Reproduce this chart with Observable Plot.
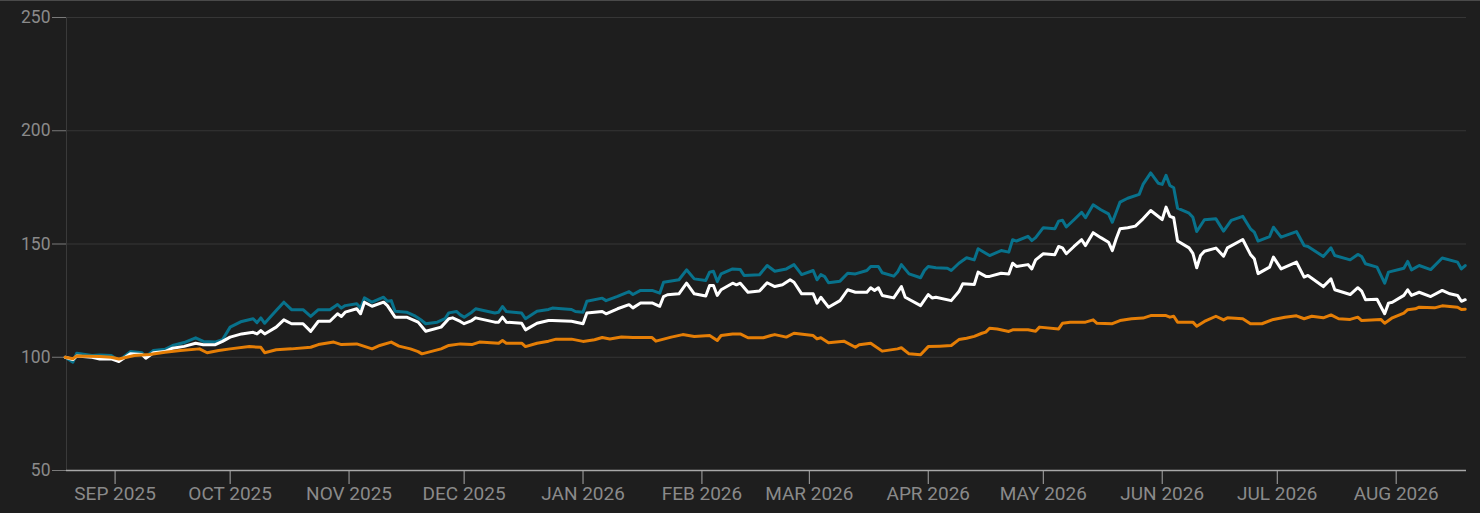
<!DOCTYPE html>
<html>
<head>
<meta charset="utf-8">
<script src="https://cdn.jsdelivr.net/npm/d3@7"></script>
<script src="https://cdn.jsdelivr.net/npm/@observablehq/plot@0.6"></script>
<style>
  html, body { margin: 0; padding: 0; background: #1e1e1e; }
  #wrap { position: relative; width: 1480px; height: 513px; overflow: hidden; }
  #topline { position: absolute; left: 0; top: 0; width: 1480px; height: 1px; background: #4a4a4a; }
</style>
</head>
<body>
<div id="wrap"><div id="chart"></div><div id="topline"></div></div>
<script>
const xTicks = ["2025-09-01","2025-10-01","2025-11-01","2025-12-01","2026-01-01","2026-02-01","2026-03-01","2026-04-01","2026-05-01","2026-06-01","2026-07-01","2026-08-01"];
const yTicks = [50, 100, 150, 200, 250];
const xDomain = ["2025-08-19T08:00", "2026-08-19T08:00"];

const tealSeries = [["2025-08-19",100],["2025-08-21",97.8],["2025-08-22",101.8],["2025-08-26",100.8],["2025-08-28",101],["2025-08-31",100.8],["2025-09-02",98.5],["2025-09-05",102.5],["2025-09-08",102],["2025-09-09",100.2],["2025-09-11",103],["2025-09-14",103.5],["2025-09-16",105.2],["2025-09-19",106.5],["2025-09-22",108.6],["2025-09-24",107],["2025-09-27",106.7],["2025-09-29",107.7],["2025-10-01",113.3],["2025-10-04",115.8],["2025-10-07",117],["2025-10-08",115.3],["2025-10-09",117.4],["2025-10-10",115],["2025-10-13",120.6],["2025-10-15",124.3],["2025-10-17",121],["2025-10-20",121],["2025-10-22",118],["2025-10-24",121],["2025-10-27",121],["2025-10-29",123.3],["2025-10-30",121.7],["2025-10-31",122.8],["2025-11-03",123.6],["2025-11-04",121.7],["2025-11-05",126.2],["2025-11-07",124.3],["2025-11-10",126.5],["2025-11-11",124.7],["2025-11-12",125],["2025-11-13",120.3],["2025-11-16",119.9],["2025-11-18",118.4],["2025-11-20",116.2],["2025-11-21",114.8],["2025-11-24",115.5],["2025-11-26",117],["2025-11-27",119.6],["2025-11-29",120.2],["2025-11-30",118.7],["2025-12-01",117.7],["2025-12-03",119.9],["2025-12-04",121.4],["2025-12-09",119.5],["2025-12-10",119.9],["2025-12-11",122.4],["2025-12-12",120.2],["2025-12-16",119.5],["2025-12-17",117],["2025-12-20",120.3],["2025-12-23",121.1],["2025-12-24",121.7],["2025-12-29",121.1],["2025-12-30",120.2],["2026-01-01",119.9],["2026-01-02",124.7],["2026-01-06",126.1],["2026-01-07",125],["2026-01-10",126.9],["2026-01-13",129],["2026-01-14",127.7],["2026-01-16",129.5],["2026-01-19",129.5],["2026-01-21",128.3],["2026-01-22",133.1],["2026-01-26",134.2],["2026-01-28",138.6],["2026-01-30",134.6],["2026-02-02",133.9],["2026-02-03",137.6],["2026-02-04",138],["2026-02-05",133.4],["2026-02-06",136.8],["2026-02-09",139],["2026-02-11",138.7],["2026-02-12",136.1],["2026-02-16",136.4],["2026-02-18",140.5],["2026-02-20",138],["2026-02-23",139],["2026-02-25",140.9],["2026-02-27",136.5],["2026-03-02",138.3],["2026-03-03",134.2],["2026-03-04",136.5],["2026-03-05",135.6],["2026-03-06",132.9],["2026-03-09",133.6],["2026-03-11",137.1],["2026-03-13",136.8],["2026-03-16",138.3],["2026-03-17",140.1],["2026-03-19",140.1],["2026-03-20",137.3],["2026-03-23",135.8],["2026-03-24",137.6],["2026-03-25",140.9],["2026-03-27",136.8],["2026-03-30",135.1],["2026-03-31",138.3],["2026-04-01",140.1],["2026-04-03",139.5],["2026-04-06",139.3],["2026-04-07",138.3],["2026-04-09",141.5],["2026-04-11",143.9],["2026-04-13",143],["2026-04-14",147.9],["2026-04-17",144.9],["2026-04-20",147.1],["2026-04-22",146.4],["2026-04-23",151.9],["2026-04-24",151.3],["2026-04-27",153.4],["2026-04-28",151.5],["2026-04-29",152.8],["2026-05-01",157.2],["2026-05-04",156.7],["2026-05-05",160.1],["2026-05-06",160.5],["2026-05-07",157.5],["2026-05-09",160.7],["2026-05-11",164],["2026-05-12",161.6],["2026-05-14",167.3],["2026-05-16",165.1],["2026-05-18",163.3],["2026-05-19",159.6],["2026-05-20",164],["2026-05-21",168.5],["2026-05-23",170.2],["2026-05-26",171.9],["2026-05-27",176.3],["2026-05-29",181.4],["2026-05-31",176.8],["2026-06-01",176.3],["2026-06-02",180.3],["2026-06-03",175.8],["2026-06-04",174.8],["2026-06-05",165.8],["2026-06-08",163.6],["2026-06-09",161.8],["2026-06-10",155.5],["2026-06-12",160.7],["2026-06-15",161.1],["2026-06-17",155.7],["2026-06-19",160.4],["2026-06-22",162.2],["2026-06-24",156.7],["2026-06-25",155.2],["2026-06-26",151.3],["2026-06-29",153.3],["2026-06-30",157.4],["2026-07-02",153],["2026-07-06",155.5],["2026-07-08",149.3],["2026-07-09",148.9],["2026-07-13",144.5],["2026-07-15",148.3],["2026-07-16",144.9],["2026-07-20",143],["2026-07-22",145.4],["2026-07-23",144.5],["2026-07-24",141.3],["2026-07-27",139.8],["2026-07-29",132.7],["2026-07-30",137.6],["2026-08-03",139.3],["2026-08-04",142.3],["2026-08-05",138.6],["2026-08-07",140.5],["2026-08-10",138.7],["2026-08-13",143.8],["2026-08-17",142],["2026-08-18",139],["2026-08-19",140.5]];

const whiteSeries = [["2025-08-19",100],["2025-08-21",99],["2025-08-22",100.5],["2025-08-26",100],["2025-08-28",99.2],["2025-08-31",99.3],["2025-09-02",98.1],["2025-09-05",101.5],["2025-09-08",101.2],["2025-09-09",99.6],["2025-09-11",102],["2025-09-14",102.5],["2025-09-16",104],["2025-09-19",104.8],["2025-09-22",106.2],["2025-09-24",105.5],["2025-09-27",105.5],["2025-09-29",107],["2025-10-01",108.9],["2025-10-04",110.3],["2025-10-07",111],["2025-10-08",110.3],["2025-10-09",111.8],["2025-10-10",110.3],["2025-10-13",113.3],["2025-10-15",116.5],["2025-10-17",114.8],["2025-10-20",114.8],["2025-10-22",111.4],["2025-10-24",115.9],["2025-10-27",115.9],["2025-10-29",119.2],["2025-10-30",118],["2025-10-31",119.9],["2025-11-03",121.4],["2025-11-04",119.2],["2025-11-05",124.3],["2025-11-07",122.5],["2025-11-10",124.3],["2025-11-11",122.8],["2025-11-13",117.7],["2025-11-16",117.7],["2025-11-19",115.5],["2025-11-21",111.5],["2025-11-25",113.3],["2025-11-27",117],["2025-11-28",117.4],["2025-11-30",115.8],["2025-12-01",114.8],["2025-12-03",116.2],["2025-12-04",117.4],["2025-12-09",115.5],["2025-12-10",115.5],["2025-12-11",117.7],["2025-12-12",115.5],["2025-12-16",115],["2025-12-17",112.1],["2025-12-20",115],["2025-12-23",116.2],["2025-12-24",116.2],["2025-12-29",115.9],["2026-01-01",114.8],["2026-01-02",119.5],["2026-01-06",120.2],["2026-01-07",119.2],["2026-01-10",121.4],["2026-01-13",123.2],["2026-01-14",121.8],["2026-01-16",124],["2026-01-19",124],["2026-01-21",122.5],["2026-01-22",126.8],["2026-01-23",127.6],["2026-01-26",128],["2026-01-28",132.7],["2026-01-30",128],["2026-02-02",127],["2026-02-03",131.7],["2026-02-04",131.7],["2026-02-05",127.3],["2026-02-06",129.8],["2026-02-09",132.7],["2026-02-10",132],["2026-02-11",132.7],["2026-02-13",128.7],["2026-02-16",129.2],["2026-02-18",132.9],["2026-02-20",131.2],["2026-02-22",132],["2026-02-24",134.2],["2026-02-25",133.1],["2026-02-27",128],["2026-03-02",128],["2026-03-03",123.9],["2026-03-04",126.5],["2026-03-06",122.1],["2026-03-09",125],["2026-03-11",129.8],["2026-03-13",128.7],["2026-03-16",128.7],["2026-03-17",130.7],["2026-03-18",129.5],["2026-03-19",130.7],["2026-03-20",127.3],["2026-03-23",126.2],["2026-03-25",131.2],["2026-03-26",126.5],["2026-03-30",122.8],["2026-04-01",127.7],["2026-04-02",126.2],["2026-04-03",126.5],["2026-04-07",125],["2026-04-09",129],["2026-04-10",132.4],["2026-04-13",132.1],["2026-04-14",137.6],["2026-04-16",135.7],["2026-04-17",135.7],["2026-04-20",137.1],["2026-04-22",136.8],["2026-04-23",141.5],["2026-04-24",140.1],["2026-04-27",140.9],["2026-04-28",139],["2026-04-29",143],["2026-05-01",145.7],["2026-05-04",145.3],["2026-05-05",148.9],["2026-05-06",148.3],["2026-05-07",145.7],["2026-05-09",148.9],["2026-05-11",151.9],["2026-05-12",149.3],["2026-05-14",155],["2026-05-16",152.8],["2026-05-18",150.8],["2026-05-19",147.1],["2026-05-20",152.3],["2026-05-21",156.7],["2026-05-23",157.2],["2026-05-25",157.9],["2026-05-27",161.1],["2026-05-29",164.8],["2026-06-01",160.8],["2026-06-02",166.3],["2026-06-03",162.2],["2026-06-04",161.6],["2026-06-05",151.3],["2026-06-08",148.3],["2026-06-09",145.9],["2026-06-10",139.5],["2026-06-11",144.9],["2026-06-12",146.8],["2026-06-15",148.2],["2026-06-17",144.6],["2026-06-18",148.3],["2026-06-22",152],["2026-06-24",145.4],["2026-06-25",143.5],["2026-06-26",136.9],["2026-06-29",139.8],["2026-06-30",144.2],["2026-07-02",139],["2026-07-06",142],["2026-07-08",135.4],["2026-07-09",136.1],["2026-07-13",131.2],["2026-07-15",134.6],["2026-07-16",129.8],["2026-07-20",127.7],["2026-07-22",130.7],["2026-07-23",129.2],["2026-07-24",125.4],["2026-07-27",125.6],["2026-07-29",119.2],["2026-07-30",123.9],["2026-07-31",124.3],["2026-08-03",127.3],["2026-08-04",129.8],["2026-08-05",127.3],["2026-08-07",128.7],["2026-08-10",126.8],["2026-08-13",129.5],["2026-08-15",128],["2026-08-17",127.3],["2026-08-18",124.7],["2026-08-19",125.4]];

const orangeSeries = [["2025-08-19",100],["2025-08-21",99.3],["2025-08-22",100.6],["2025-08-28",100.3],["2025-08-31",100],["2025-09-02",99.2],["2025-09-06",100.8],["2025-09-10",101.2],["2025-09-14",102.2],["2025-09-18",103],["2025-09-23",103.7],["2025-09-25",102],["2025-09-28",103],["2025-10-01",103.7],["2025-10-06",104.7],["2025-10-09",104.4],["2025-10-10",102],["2025-10-13",103.3],["2025-10-17",103.7],["2025-10-22",104.4],["2025-10-24",105.6],["2025-10-28",106.7],["2025-10-30",105.6],["2025-11-03",105.9],["2025-11-07",103.7],["2025-11-09",105.2],["2025-11-12",106.7],["2025-11-14",104.9],["2025-11-17",103.7],["2025-11-19",102.5],["2025-11-20",101.5],["2025-11-25",103.7],["2025-11-27",105.2],["2025-11-30",105.9],["2025-12-03",105.6],["2025-12-05",106.7],["2025-12-10",106.2],["2025-12-11",107.4],["2025-12-12",106.2],["2025-12-16",106.2],["2025-12-17",104.7],["2025-12-20",106.2],["2025-12-23",107.1],["2025-12-25",108],["2025-12-29",108],["2026-01-01",107],["2026-01-04",107.7],["2026-01-06",108.7],["2026-01-08",108.1],["2026-01-11",108.9],["2026-01-14",108.7],["2026-01-19",108.7],["2026-01-20",107.1],["2026-01-24",108.9],["2026-01-27",110],["2026-01-30",109.2],["2026-02-03",109.6],["2026-02-05",107.4],["2026-02-06",109.6],["2026-02-09",110.3],["2026-02-11",110.3],["2026-02-13",108.6],["2026-02-17",108.6],["2026-02-19",109.6],["2026-02-20",110],["2026-02-23",108.9],["2026-02-25",110.6],["2026-03-02",109.6],["2026-03-03",108.1],["2026-03-04",108.6],["2026-03-06",106.4],["2026-03-10",107.1],["2026-03-13",104.4],["2026-03-14",105.5],["2026-03-17",106.2],["2026-03-20",102.7],["2026-03-24",103.7],["2026-03-25",104.2],["2026-03-27",101.5],["2026-03-30",101.1],["2026-04-01",104.7],["2026-04-04",104.9],["2026-04-07",105.2],["2026-04-09",107.8],["2026-04-11",108.4],["2026-04-13",109.2],["2026-04-15",110.6],["2026-04-16",111.1],["2026-04-17",112.8],["2026-04-19",112.5],["2026-04-22",111.4],["2026-04-23",112.1],["2026-04-27",112.1],["2026-04-29",111.5],["2026-04-30",113.3],["2026-05-05",112.5],["2026-05-06",115],["2026-05-08",115.5],["2026-05-12",115.5],["2026-05-14",116.5],["2026-05-15",115],["2026-05-19",114.8],["2026-05-21",116.2],["2026-05-24",117],["2026-05-27",117.3],["2026-05-29",118.4],["2026-06-02",118.4],["2026-06-03",117.7],["2026-06-04",118.1],["2026-06-05",115.5],["2026-06-09",115.5],["2026-06-10",113.7],["2026-06-12",115.8],["2026-06-15",118.1],["2026-06-17",116.5],["2026-06-18",117.4],["2026-06-22",117],["2026-06-24",114.8],["2026-06-27",114.8],["2026-06-30",116.7],["2026-07-03",117.7],["2026-07-06",118.3],["2026-07-08",117],["2026-07-10",118.1],["2026-07-13",117.4],["2026-07-15",118.7],["2026-07-17",117],["2026-07-20",116.7],["2026-07-22",117.7],["2026-07-23",116.2],["2026-07-28",116.7],["2026-07-29",115],["2026-07-31",117.4],["2026-08-03",119.5],["2026-08-04",121],["2026-08-06",121.4],["2026-08-07",122.1],["2026-08-11",121.8],["2026-08-13",122.7],["2026-08-17",122.1],["2026-08-18",121.1],["2026-08-19",121.2]];

const seriesColors = { teal: "#08728c", white: "#ffffff", orange: "#e57e06" };

const parse = d3.utcParse("%Y-%m-%d");
const parseT = d3.utcParse("%Y-%m-%dT%H:%M");
function rows(name, arr) { return arr.map(([d, v]) => ({ series: name, date: parse(d), value: v })); }
const data = [...rows("teal", tealSeries), ...rows("white", whiteSeries), ...rows("orange", orangeSeries)];
const fmt = d3.utcFormat("%b %Y");

const chart = Plot.plot({
  width: 1480,
  height: 513,
  marginLeft: 66,
  marginRight: 14,
  marginTop: 17,
  marginBottom: 43,
  style: { background: "#1e1e1e", fontFamily: "Roboto, sans-serif", overflow: "visible" },
  x: { type: "utc", domain: xDomain.map(parseT) },
  y: { domain: [50, 250] },
  marks: [
    Plot.gridY(yTicks.slice(1), { stroke: "#363636", strokeOpacity: 1, strokeWidth: 1 }),
    Plot.ruleX([parseT(xDomain[0])], { stroke: "#3a3a3a", strokeWidth: 1 }),
    Plot.axisY(yTicks, { tickSize: 14, tickPadding: 2, stroke: "#7a7a7a", fill: "#8a8a8a", fontSize: 17.5, label: null }),
    Plot.axisX(xTicks.map(parse), { tickSize: 14, tickPadding: 2, stroke: "#a8a8a8", fill: "#8a8a8a", fontSize: 19, label: null, tickFormat: d => fmt(d).toUpperCase() }),
    Plot.ruleY([50], { stroke: "#a8a8a8", strokeWidth: 1.5 }),
    Plot.line(data.filter(d => d.series === "teal"), { x: "date", y: "value", stroke: seriesColors.teal, strokeWidth: 3 }),
    Plot.line(data.filter(d => d.series === "white"), { x: "date", y: "value", stroke: seriesColors.white, strokeWidth: 3 }),
    Plot.line(data.filter(d => d.series === "orange"), { x: "date", y: "value", stroke: seriesColors.orange, strokeWidth: 3 })
  ]
});
document.getElementById("chart").appendChild(chart);
</script>
</body>
</html>
